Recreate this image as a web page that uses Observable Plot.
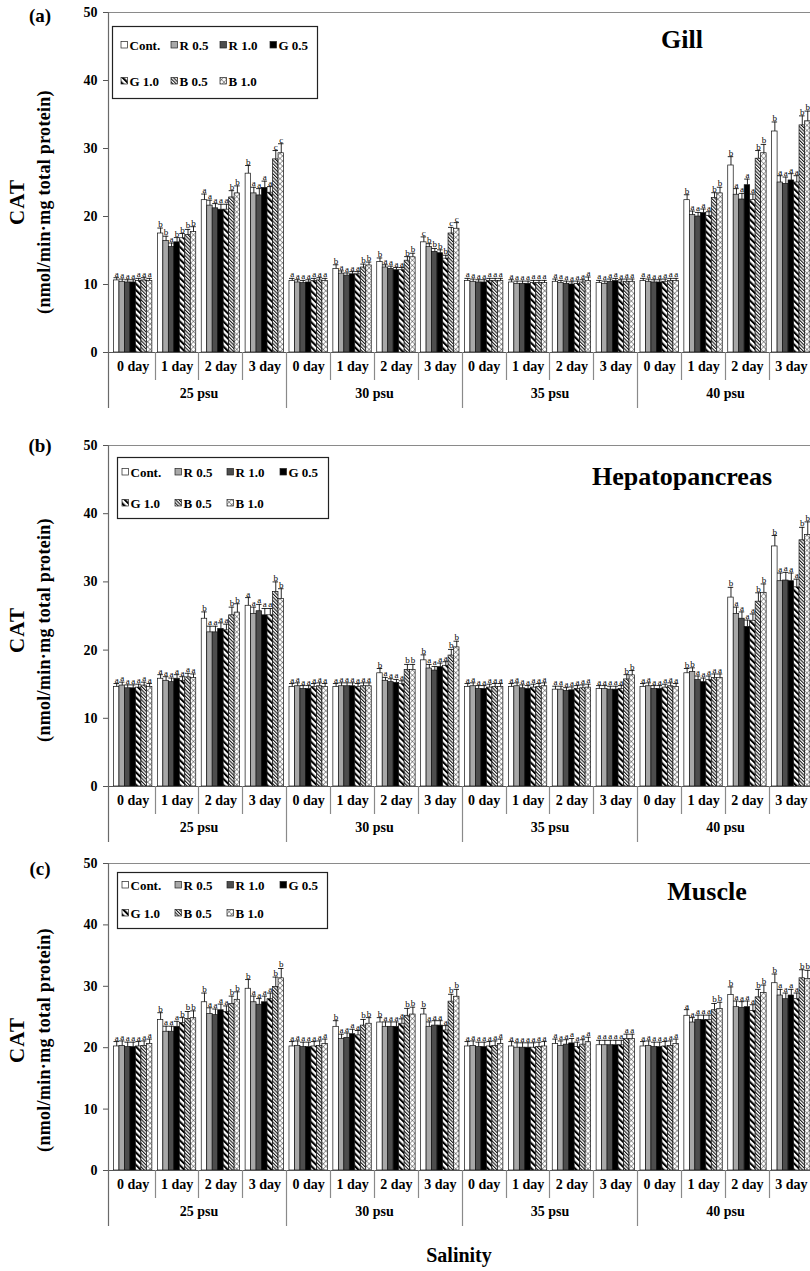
<!DOCTYPE html>
<html>
<head>
<meta charset="utf-8">
<script src="https://cdn.jsdelivr.net/npm/d3@7"></script>
<script src="https://cdn.jsdelivr.net/npm/@observablehq/plot@0.6"></script>
<style>
  html, body { margin: 0; padding: 0; background: #fff; overflow: hidden; }
  #chart { width: 810px; }
  #chart svg { display: block; }
  #chart svg text { font-family: "Liberation Serif", "Times New Roman", serif; }
</style>
</head>
<body>
<svg width="0" height="0" style="position:absolute">
  <defs>
    <pattern id="pG10" patternUnits="userSpaceOnUse" width="4.4" height="4.4" patternTransform="rotate(-45)">
      <rect width="4.4" height="4.4" fill="#fff"/>
      <rect width="2.1" height="4.4" fill="#000"/>
    </pattern>
    <pattern id="pB05" patternUnits="userSpaceOnUse" width="2.4" height="2.4" patternTransform="rotate(-45)">
      <rect width="2.4" height="2.4" fill="#fff"/>
      <rect width="1.1" height="2.4" fill="#1a1a1a"/>
    </pattern>
    <pattern id="pB10" patternUnits="userSpaceOnUse" width="3.6" height="3.6" patternTransform="rotate(45)">
      <rect width="3.6" height="3.6" fill="#fff"/>
      <path d="M0,0H3.6M0,0V3.6" stroke="#222" stroke-width="0.8" fill="none"/>
    </pattern>
  </defs>
</svg>
<div id="chart"></div>
<script>
// ---------- data ----------
const treatments = ["Cont.", "R0.5", "R1.0", "G0.5", "G1.0", "B0.5", "B1.0"];
const legendNames = ["Cont.", "R 0.5", "R 1.0", "G 0.5", "G 1.0", "B 0.5", "B 1.0"];
const days = ["0 day", "1 day", "2 day", "3 day"];
const salinities = ["25 psu", "30 psu", "35 psu", "40 psu"];
const yTicks = [0, 10, 20, 30, 40, 50];

// groups: 25 psu (0-3 day), 30 psu, 35 psu, 40 psu ; 7 treatments each
const gillValues = [
  [10.6,10.4,10.3,10.3,10.5,10.6,10.5],
  [17.5,16.4,15.5,16.2,16.8,17.3,17.7],
  [22.4,21.6,21.2,21.0,21.0,22.8,23.4],
  [26.3,23.4,23.1,24.2,23.5,28.4,29.3],
  [10.5,10.3,10.2,10.3,10.5,10.6,10.5],
  [12.3,11.6,11.3,11.5,11.5,12.5,12.8],
  [13.3,12.5,12.3,12.1,12.1,13.5,14.0],
  [16.2,15.5,14.8,14.6,13.8,17.5,18.2],
  [10.5,10.4,10.3,10.3,10.5,10.5,10.5],
  [10.3,10.1,10.1,10.1,10.2,10.2,10.2],
  [10.4,10.2,10.1,10.0,10.1,10.3,10.5],
  [10.2,10.1,10.4,10.5,10.3,10.4,10.4],
  [10.5,10.4,10.3,10.3,10.4,10.5,10.5],
  [22.4,20.2,20.0,20.5,20.1,22.7,23.4],
  [27.5,23.2,22.5,24.6,22.4,28.5,29.3],
  [32.5,25.0,24.8,25.3,25.0,33.4,34.0]
];
const gillErrors = [
  [0.4,0.4,0.4,0.4,0.4,0.4,0.4],
  [0.8,0.7,0.6,0.7,0.7,0.8,0.8],
  [0.9,0.8,0.7,0.8,0.8,1.0,1.1],
  [1.2,0.9,1.0,1.0,0.9,1.3,1.4],
  [0.4,0.4,0.4,0.4,0.4,0.4,0.4],
  [0.6,0.4,0.4,0.4,0.4,0.5,0.5],
  [0.6,0.4,0.4,0.4,0.4,0.6,0.6],
  [0.8,0.5,0.5,0.5,0.5,0.9,0.9],
  [0.4,0.4,0.4,0.4,0.4,0.4,0.4],
  [0.4,0.4,0.4,0.4,0.4,0.4,0.4],
  [0.4,0.4,0.4,0.4,0.4,0.4,0.6],
  [0.4,0.4,0.4,0.4,0.4,0.4,0.4],
  [0.4,0.4,0.4,0.4,0.4,0.4,0.4],
  [0.8,0.6,0.6,0.6,0.6,0.8,0.9],
  [1.3,0.9,0.9,0.9,0.9,1.2,1.3],
  [1.4,1.0,1.0,1.0,1.0,1.4,1.5]
];
const gillLetters = ["aaaaaaa","bbabbbb","aaaaabb","baaaacc","aaaaaaa","baaaabb","baaaabb","cbbbbcc",
                     "aaaaaaa","aaaaaaa","aaaaaaa","aaaaaaa","aaaaaaa","baaaabb","baaaabb","baaaabb"];

const hepaValues = [
  [14.6,14.8,14.4,14.4,14.5,14.8,14.6],
  [15.8,15.5,15.3,15.8,15.5,16.0,15.9],
  [24.6,22.6,22.6,23.1,22.9,25.1,25.5],
  [26.5,25.3,25.7,25.1,25.1,28.5,27.5],
  [14.6,14.7,14.3,14.3,14.6,14.7,14.6],
  [14.6,14.7,14.7,14.7,14.6,14.7,14.7],
  [16.6,15.5,15.3,15.2,15.0,17.1,17.1],
  [18.5,17.3,17.0,17.5,17.7,19.2,20.4],
  [14.6,14.7,14.3,14.3,14.5,14.6,14.6],
  [14.6,14.7,14.4,14.3,14.5,14.6,14.7],
  [14.2,14.2,14.0,14.1,14.3,14.4,14.5],
  [14.3,14.3,14.2,14.2,14.3,15.7,16.3],
  [14.6,14.7,14.3,14.3,14.5,14.7,14.6],
  [16.6,16.8,15.6,15.3,15.6,15.9,15.9],
  [27.7,25.3,24.6,23.4,24.3,27.1,28.4],
  [35.2,30.1,30.2,30.1,29.2,36.1,36.9]
];
const hepaErrors = [
  [0.5,0.5,0.5,0.5,0.5,0.5,0.5],
  [0.6,0.6,0.6,0.6,0.6,0.6,0.6],
  [1.0,0.9,0.9,0.9,0.9,1.2,1.3],
  [1.2,1.0,1.0,1.0,1.0,1.5,1.5],
  [0.5,0.5,0.5,0.5,0.5,0.5,0.5],
  [0.5,0.5,0.5,0.5,0.5,0.5,0.5],
  [0.7,0.5,0.5,0.5,0.5,0.8,0.8],
  [0.8,0.6,0.6,0.6,0.6,0.9,0.9],
  [0.5,0.5,0.5,0.5,0.5,0.5,0.5],
  [0.5,0.5,0.5,0.5,0.5,0.5,0.5],
  [0.5,0.5,0.5,0.5,0.5,0.5,0.5],
  [0.5,0.5,0.5,0.5,0.5,0.7,0.7],
  [0.5,0.5,0.5,0.5,0.5,0.5,0.5],
  [0.7,0.6,0.6,0.6,0.6,0.6,0.6],
  [1.5,1.0,1.0,1.0,1.0,1.3,1.3],
  [1.6,1.2,1.2,1.2,1.2,1.9,1.9]
];
const hepaLetters = ["aaaaaaa","aaaaaaa","baaaabb","aaaaabb","aaaaaaa","aaaaaaa","baaaabb","baaaabb",
                     "aaaaaaa","aaaaaaa","aaaaaaa","aaaaabb","aaaaaaa","bbaaaaa","baaaabb","baaaabb"];

const muscleValues = [
  [20.2,20.3,20.1,20.1,20.2,20.3,20.6],
  [24.5,22.6,22.6,23.4,24.0,24.7,24.8],
  [27.4,25.5,25.3,26.1,25.8,27.1,27.8],
  [29.6,27.4,27.0,27.4,27.9,29.9,31.3],
  [20.2,20.3,20.1,20.1,20.2,20.3,20.6],
  [23.4,21.4,21.6,22.2,22.0,23.6,23.9],
  [24.1,23.4,23.4,23.4,23.9,25.2,25.4],
  [25.4,23.4,23.6,23.6,22.8,27.5,28.3],
  [20.2,20.3,20.1,20.1,20.2,20.3,20.6],
  [20.2,20.0,20.0,20.0,20.0,20.1,20.2],
  [20.6,20.3,20.5,20.7,20.1,20.5,20.9],
  [20.4,20.4,20.4,20.4,20.4,21.4,21.4],
  [20.2,20.3,20.1,20.1,20.2,20.3,20.6],
  [25.2,24.1,24.5,24.5,24.5,26.1,26.3],
  [28.6,26.6,26.5,26.6,26.0,28.2,28.9],
  [30.5,28.5,27.9,28.5,27.9,31.3,31.2]
];
const muscleErrors = [
  [0.8,0.8,0.8,0.8,0.8,0.8,0.8],
  [1.2,0.9,0.9,0.9,0.9,1.2,1.2],
  [1.5,1.0,1.0,1.0,1.0,1.3,1.3],
  [1.5,1.0,1.0,1.0,1.0,1.6,1.6],
  [0.8,0.8,0.8,0.8,0.8,0.8,0.8],
  [1.0,0.8,0.8,0.8,0.8,1.0,1.0],
  [0.8,0.8,0.8,0.8,0.8,1.2,1.2],
  [1.0,0.8,0.8,0.8,0.8,1.2,1.2],
  [0.8,0.8,0.8,0.8,0.8,0.8,0.8],
  [0.8,0.8,0.8,0.8,0.8,0.8,0.8],
  [0.8,0.8,0.8,0.8,0.8,0.8,0.8],
  [0.8,0.8,0.8,0.8,0.8,0.8,0.8],
  [0.8,0.8,0.8,0.8,0.8,0.8,0.8],
  [1.0,0.8,0.8,0.8,0.8,1.1,1.1],
  [1.3,1.0,1.0,1.0,1.0,1.3,1.3],
  [1.5,1.0,1.0,1.0,1.0,1.4,1.4]
];
const muscleLetters = ["aaaaaaa","baaabbb","baaaabb","baaaabb","aaaaaaa","baaaabb","baaaabb","baaaabb",
                       "aaaaaaa","aaaaaaa","aaaaaaa","aaaaaaa","aaaaaaa","aaaaabb","baaaabb","baaaabb"];

// ---------- styles ----------
const fills = ["#ffffff", "#a8a8a8", "#4d4d4d", "#000000", "url(#pG10)", "url(#pB05)", "url(#pB10)"];
const FONT = "Liberation Serif, Times New Roman, serif";

// x domain: per group a spacer slot followed by 7 bar slots
const nGroups = salinities.length * days.length;
const xDomain = [];
for (let g = 0; g < nGroups; g++) {
  xDomain.push(`${g}|gap`);
  treatments.forEach((t, i) => xDomain.push(`${g}|${i}`));
}
const groups = d3.range(nGroups).map(g => ({g, day: days[g % 4], sal: salinities[Math.floor(g / 4)]}));
const salGroups = salinities.map((s, i) => ({g: i * 4 + 2, sal: s}));

function addText(sel, attrs, str) {
  const t = sel.append("text").attr("font-family", FONT).attr("font-weight", "bold").attr("fill", "#000");
  Object.entries(attrs).forEach(([k, v]) => t.attr(k, v));
  return t.text(str);
}

function panel(cfg) {
  const rows = [];
  cfg.values.forEach((arr, g) => arr.forEach((v, i) => rows.push({
    key: `${g}|${i}`, v, e: cfg.errors[g][i], letter: cfg.letters[g][i], fill: fills[i]
  })));
  const plot = Plot.plot({
    width: 810, height: cfg.height,
    marginLeft: 108, marginRight: 0, marginTop: cfg.marginTop, marginBottom: cfg.marginBottom,
    style: {fontFamily: FONT, fontSize: "14px", fontWeight: "bold", color: "#000", background: "#fff", overflow: "visible"},
    x: {type: "band", domain: xDomain, padding: 0, axis: null},
    y: {domain: [0, 50], axis: null},
    color: {type: "identity"},
    marks: [
      Plot.frame({stroke: "#8a8a8a", strokeWidth: 1}),
      Plot.axisY({ticks: yTicks, tickSize: 5, tickPadding: 6, tickFormat: d => String(d), label: null, stroke: "#555", fontSize: 14}),
      Plot.barY(rows, {x: "key", y: "v", fill: "fill", stroke: "#111", strokeWidth: 0.7}),
      Plot.ruleX(rows, {x: "key", y1: "v", y2: d => d.v + d.e, stroke: "#111", strokeWidth: 0.9}),
      Plot.tickY(rows, {x: "key", y: d => d.v + d.e, stroke: "#111", strokeWidth: 0.9}),
      Plot.text(rows, {x: "key", y: d => d.v + d.e, text: "letter", lineAnchor: "bottom", dy: -1,
                       fontSize: 9, fontWeight: "normal", fill: "#000"}),
      Plot.ruleY([0], {stroke: "#555", strokeWidth: 1}),
      Plot.text(groups, {x: d => `${d.g}|3`, text: "day", frameAnchor: "bottom", dy: 18, fontSize: 14}),
      Plot.text(salGroups, {x: d => `${d.g}|gap`, text: "sal", frameAnchor: "bottom", dy: 45, fontSize: 14})
    ]
  });
  const svg = d3.select(plot);
  const xs = plot.scale("x"), ys = plot.scale("y");
  const top = ys.apply(50), bottom = ys.apply(0);
  const left = xs.range[0];
  // left axis line extended below
  svg.append("line").attr("x1", left + 0.5).attr("x2", left + 0.5)
    .attr("y1", top).attr("y2", bottom + 56).attr("stroke", "#6a6a6a").attr("stroke-width", 1.2);
  // group separators
  for (let g = 1; g < nGroups; g++) {
    const cx = Math.round(xs.apply(`${g}|gap`) + xs.bandwidth / 2) + 0.5;
    svg.append("line").attr("x1", cx).attr("x2", cx).attr("y1", bottom)
      .attr("y2", bottom + (g % 4 === 0 ? 56 : 28)).attr("stroke", "#8a8a8a").attr("stroke-width", 1.2);
  }
  // panel label
  addText(svg, {x: 40, y: cfg.labelY, "text-anchor": "middle", "dominant-baseline": "central", "font-size": 19}, cfg.label);
  // title
  addText(svg, {x: cfg.titleX, y: cfg.titleY, "text-anchor": "middle", "font-size": 26}, cfg.title);
  // y titles
  addText(svg, {transform: `translate(17,${cfg.yTitleY}) rotate(-90)`, "text-anchor": "middle",
    "dominant-baseline": "central", "font-size": 21, "letter-spacing": 1}, "CAT");
  addText(svg, {transform: `translate(44,${cfg.yTitleY}) rotate(-90)`, "text-anchor": "middle",
    "dominant-baseline": "central", "font-size": 18, "letter-spacing": 0.3}, "(nmol/min·mg total protein)");
  // legend
  const L = cfg.legend;
  const lg = svg.append("g");
  lg.append("rect").attr("x", L.x0 + 0.5).attr("y", L.y0 + 0.5).attr("width", L.x1 - L.x0).attr("height", L.y1 - L.y0)
    .attr("fill", "#fff").attr("stroke", "#222").attr("stroke-width", 1.2);
  treatments.forEach((t, i) => {
    const col = i < 4 ? i : i - 4;
    const row = i < 4 ? 0 : 1;
    const sx = L.cols[col], sy = L.rows[row];
    lg.append("rect").attr("x", sx).attr("y", sy - 3.5).attr("width", 6.5).attr("height", 6.5)
      .attr("fill", fills[i]).attr("stroke", "#222").attr("stroke-width", 0.7);
    addText(lg, {x: sx + 8.5, y: sy, "text-anchor": "start", "dominant-baseline": "central", "font-size": 13}, legendNames[i]);
  });
  if (cfg.xTitle) {
    addText(svg, {x: 459, y: cfg.xTitleY, "text-anchor": "middle", "font-size": 20}, cfg.xTitle);
  }
  return plot;
}

const chart = document.getElementById("chart");
chart.append(panel({
  values: gillValues, errors: gillErrors, letters: gillLetters,
  height: 420, marginTop: 12, marginBottom: 68,
  label: "(a)", labelY: 15, title: "Gill", titleX: 682, titleY: 48, yTitleY: 202,
  legend: {x0: 112, x1: 317, y0: 26, y1: 98, rows: [45, 81], cols: [121, 171, 220, 270]}
}));
chart.append(panel({
  values: hepaValues, errors: hepaErrors, letters: hepaLetters,
  height: 430, marginTop: 25, marginBottom: 64,
  label: "(b)", labelY: 25, title: "Hepatopancreas", titleX: 682, titleY: 65, yTitleY: 210,
  legend: {x0: 117, x1: 328, y0: 37, y1: 98, rows: [52, 83], cols: [122, 175, 227, 280]}
}));
chart.append(panel({
  values: muscleValues, errors: muscleErrors, letters: muscleLetters,
  height: 421, marginTop: 13, marginBottom: 101,
  label: "(c)", labelY: 18, title: "Muscle", titleX: 707, titleY: 50, yTitleY: 190,
  legend: {x0: 117, x1: 327, y0: 22, y1: 78, rows: [35, 63], cols: [122, 175, 227, 280]},
  xTitle: "Salinity", xTitleY: 412
}));
</script>
</body>
</html>
